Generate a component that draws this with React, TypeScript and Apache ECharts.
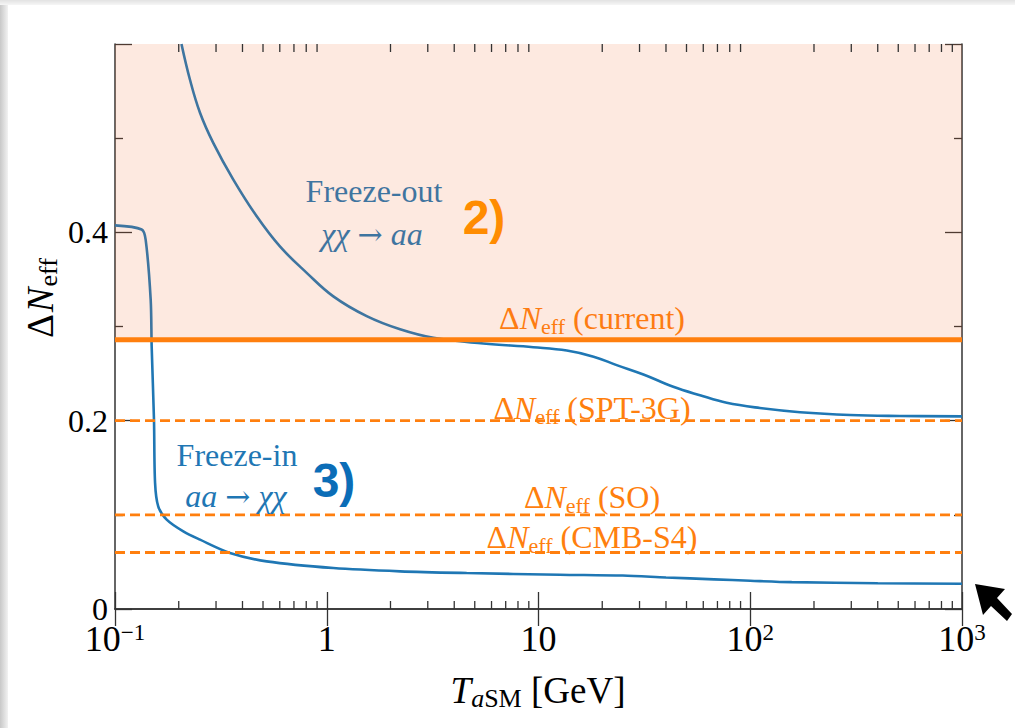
import React, { useEffect, useRef } from "react";
import * as echarts from "echarts";

// ---------- data ----------
const X_MIN = 0.1;
const X_MAX = 1000;
const Y_MIN = 0;
const Y_MAX = 0.6;

const X_TICK_VALUES = [0.1, 1, 10, 100, 1000];
const X_TICK_BASE = ["10", "1", "10", "10", "10"];
const X_TICK_EXP = ["−1", "", "", "2", "3"];
const Y_TICK_LABELS = ["0", "0.2", "0.4"];

const MINOR_DECADES = [0.1, 1, 10, 100];
const MINOR_MULTIPLIERS = [2, 3, 4, 5, 6, 7, 8, 9];

// Freeze-out curve (chi chi -> a a)
const FO_X = [0.206, 0.226, 0.252, 0.291, 0.362, 0.467, 0.601, 0.804, 1.074, 1.544, 2.22, 3.19, 5.49, 9.45, 13.6, 18.2, 23.4, 31.3, 43.3, 57.9, 77.4, 111, 172, 296, 509, 1000];
const FO_Y = [0.6, 0.562, 0.527, 0.495, 0.456, 0.417, 0.385, 0.357, 0.332, 0.311, 0.297, 0.288, 0.282, 0.278, 0.2745, 0.268, 0.259, 0.249, 0.236, 0.227, 0.219, 0.2135, 0.209, 0.206, 0.205, 0.2046];

// Freeze-in curve (a a -> chi chi)
const FI_X = [0.1, 0.1336, 0.1396, 0.1474, 0.149, 0.1528, 0.1546, 0.16, 0.1754, 0.2102, 0.252, 0.349, 0.52, 1.074, 2.22, 4.58, 12.6, 25, 40, 67.5, 100, 157, 400, 1000];
const FI_Y = [0.4074, 0.403, 0.392, 0.3285, 0.2786, 0.201, 0.134, 0.109, 0.0949, 0.0824, 0.0736, 0.0595, 0.0506, 0.0435, 0.04, 0.0382, 0.0364, 0.0355, 0.0335, 0.0315, 0.03, 0.0285, 0.0274, 0.0268];

// Delta N_eff bounds
const BOUND_NAMES = ["current", "SPT-3G", "SO", "CMB-S4"];
const BOUND_VALUES = [0.286, 0.2, 0.1, 0.06];

// ---------- styles ----------
const SERIF = '"Liberation Serif", "DejaVu Serif", "Times New Roman", serif';
const ARROW_FONT = '"DejaVu Serif", "Liberation Serif", serif';
const SANS = '"Liberation Sans", Arial, Helvetica, sans-serif';
const AXIS_COLOR = "#333333";
const BLUE = "#1f77b4";
const ORANGE = "#ff7f0e";

function App() {
  const ref = useRef<HTMLDivElement | null>(null);

  useEffect(() => {
    if (!ref.current) return;
    const chart = echarts.init(ref.current, null, { renderer: "svg", width: 1015, height: 728 });

    const minorTicks: number[] = [];
    MINOR_DECADES.forEach((d) => MINOR_MULTIPLIERS.forEach((m) => minorTicks.push(+(d * m).toPrecision(3))));

    const xLabelFormatter = (v: number) => {
      const idx = X_TICK_VALUES.findIndex((t) => Math.abs(Math.log10(t) - Math.log10(v)) < 1e-6);
      if (idx < 0) return "";
      const exp = X_TICK_EXP[idx];
      return exp ? `{b|${X_TICK_BASE[idx]}}{p|${exp}}` : `{b|${X_TICK_BASE[idx]}}`;
    };
    const yLabelFormatter = (v: number) => {
      const s = Y_TICK_LABELS.find((t) => Math.abs(parseFloat(t) - v) < 1e-6);
      return s ?? "";
    };

    const tickStyle = { color: AXIS_COLOR, width: 1.3 };
    const axisLineStyle = { show: true, lineStyle: { color: AXIS_COLOR, width: 1.5 } };

    const xBase = {
      type: "log" as const,
      logBase: 10,
      min: X_MIN,
      max: X_MAX,
      axisLine: axisLineStyle,
      axisTick: { show: true, inside: true, length: 17, lineStyle: tickStyle },
      splitLine: { show: false },
    };
    const yBase = {
      type: "value" as const,
      min: Y_MIN,
      max: Y_MAX,
      interval: 0.2,
      axisLine: axisLineStyle,
      axisTick: { show: true, inside: true, length: 17, lineStyle: tickStyle },
      minorTick: { show: true, splitNumber: 2, length: 8, lineStyle: tickStyle },
      splitLine: { show: false },
      minorSplitLine: { show: false },
    };

    const neffRich = (color: string) => ({
      r: { fontSize: 32, fontFamily: SERIF, fill: color, lineHeight: 38 },
      i: { fontSize: 32, fontFamily: SERIF, fontStyle: "italic", fill: color, lineHeight: 38 },
      s: { fontSize: 22, fontFamily: SERIF, fill: color, lineHeight: 21, verticalAlign: "bottom" },
    });
    const boundLabelPos = [
      [592, 318],
      [592, 408],
      [592, 497],
      [592, 537],
    ];
    const mathRich = (color: string) => ({
      i: { fontSize: 32, fontFamily: SERIF, fontStyle: "italic", fill: color, lineHeight: 36 },
      a: { fontSize: 30, fontFamily: ARROW_FONT, fill: color, lineHeight: 36 },
    });

    const option: any = {
      animation: false,
      backgroundColor: "#ffffff",
      grid: { left: 115, right: 53, top: 44, bottom: 119, containLabel: false },
      xAxis: [
        {
          ...xBase,
          position: "bottom",
          axisLabel: {
            show: true,
            margin: 12,
            showMinLabel: true,
            showMaxLabel: true,
            formatter: xLabelFormatter,
            rich: {
              b: { fontSize: 36, fontFamily: SERIF, color: "#000", lineHeight: 36 },
              p: { fontSize: 23, fontFamily: SERIF, color: "#000", lineHeight: 20, verticalAlign: "top" },
            },
          },
        },
        { ...xBase, position: "top", axisLabel: { show: false } },
      ],
      yAxis: [
        {
          ...yBase,
          position: "left",
          axisLabel: {
            show: true,
            margin: 7,
            formatter: yLabelFormatter,
            fontSize: 32,
            lineHeight: 22,
            fontFamily: SERIF,
            color: "#000",
          },
        },
        { ...yBase, position: "right", axisLabel: { show: false } },
      ],
      series: [
        {
          name: "Freeze-out",
          type: "line",
          z: 2,
          xAxisIndex: 0,
          yAxisIndex: 0,
          data: FO_X.map((x, i) => [x, FO_Y[i]]),
          showSymbol: false,
          smooth: 0.4,
          clip: true,
          lineStyle: { color: BLUE, width: 2.6 },
        },
        {
          name: "Freeze-in",
          type: "line",
          z: 2,
          xAxisIndex: 0,
          yAxisIndex: 0,
          data: FI_X.map((x, i) => [x, FI_Y[i]]),
          showSymbol: false,
          smooth: 0.3,
          clip: true,
          lineStyle: { color: BLUE, width: 2.6 },
        },
        {
          name: "excluded",
          type: "custom",
          z: 3,
          xAxisIndex: 0,
          yAxisIndex: 0,
          data: [[X_MIN, BOUND_VALUES[0], X_MAX, Y_MAX]],
          encode: { x: [0, 2], y: [1, 3] },
          renderItem: (params: any, api: any) => {
            const p1 = api.coord([api.value(0), api.value(3)]);
            const p2 = api.coord([api.value(2), api.value(1)]);
            return {
              type: "rect",
              shape: { x: p1[0], y: p1[1], width: p2[0] - p1[0], height: p2[1] - p1[1] },
              style: { fill: "rgba(242,108,48,0.15)" },
            };
          },
        },
        ...BOUND_VALUES.map((v, i) => ({
          name: BOUND_NAMES[i],
          type: "line",
          z: 4,
          xAxisIndex: 0,
          yAxisIndex: 0,
          data: [
            [X_MIN, v],
            [X_MAX, v],
          ],
          showSymbol: false,
          lineStyle:
            i === 0
              ? { color: ORANGE, width: 5 }
              : { color: ORANGE, width: 2.8, type: [10, 5] },
        })),
        {
          name: "minorTicks",
          type: "custom",
          z: 5,
          xAxisIndex: 0,
          yAxisIndex: 0,
          data: minorTicks.map((v) => [v, Y_MIN]),
          renderItem: (params: any, api: any) => {
            const v = api.value(0);
            const b = api.coord([v, Y_MIN]);
            const t = api.coord([v, Y_MAX]);
            return {
              type: "group",
              children: [
                { type: "line", shape: { x1: b[0], y1: b[1], x2: b[0], y2: b[1] - 8 }, style: { stroke: AXIS_COLOR, lineWidth: 1.3 } },
                { type: "line", shape: { x1: t[0], y1: t[1], x2: t[0], y2: t[1] + 8 }, style: { stroke: AXIS_COLOR, lineWidth: 1.3 } },
              ],
            };
          },
        },
      ],
      graphic: [
        // card frame shadow
        {
          type: "rect",
          z: 0,
          shape: { x: 0, y: 0, width: 8, height: 728 },
          style: {
            fill: new echarts.graphic.LinearGradient(0, 0, 1, 0, [
              { offset: 0, color: "#c8c8c8" },
              { offset: 1, color: "#f2f2f2" },
            ]),
          },
        },
        {
          type: "rect",
          z: 0,
          shape: { x: 0, y: 0, width: 1015, height: 5 },
          style: {
            fill: new echarts.graphic.LinearGradient(0, 0, 0, 1, [
              { offset: 0, color: "#e2e2e2" },
              { offset: 1, color: "#f6f6f6" },
            ]),
          },
        },
        // Axis titles
        {
          type: "text",
          z: 10,
          x: 40,
          y: 298,
          rotation: Math.PI / 2,
          style: {
            text: "{r|Δ}{i|N}{s|eff}",
            align: "center",
            verticalAlign: "middle",
            rich: {
              r: { fontSize: 37, fontFamily: SERIF, fill: "#000", lineHeight: 42 },
              i: { fontSize: 37, fontFamily: SERIF, fontStyle: "italic", fill: "#000", lineHeight: 42, padding: [0, 1, 0, 2] },
              s: { fontSize: 26, fontFamily: SERIF, fill: "#000", lineHeight: 24, verticalAlign: "bottom" },
            },
          },
        },
        {
          type: "text",
          z: 10,
          x: 538,
          y: 690,
          style: {
            text: "{i|T}{si|a}{s|SM}{r| [GeV]}",
            align: "center",
            verticalAlign: "middle",
            rich: {
              r: { fontSize: 37, fontFamily: SERIF, fill: "#000", lineHeight: 42 },
              i: { fontSize: 37, fontFamily: SERIF, fontStyle: "italic", fill: "#000", lineHeight: 42 },
              si: { fontSize: 26, fontFamily: SERIF, fontStyle: "italic", fill: "#000", lineHeight: 24, verticalAlign: "bottom" },
              s: { fontSize: 26, fontFamily: SERIF, fill: "#000", lineHeight: 24, verticalAlign: "bottom" },
            },
          },
        },
        // Freeze-out annotation (under the shaded band)
        {
          type: "text",
          z: 1,
          x: 374,
          y: 191,
          style: { text: "Freeze-out", align: "center", verticalAlign: "middle", fontSize: 32, fontFamily: SERIF, fill: BLUE },
        },
        {
          type: "text",
          z: 1,
          x: 372,
          y: 234,
          style: { text: "{i|χχ }{a|→}{i| aa}", align: "center", verticalAlign: "middle", rich: mathRich(BLUE) },
        },
        {
          type: "text",
          z: 10,
          x: 484,
          y: 217,
          style: { text: "2)", align: "center", verticalAlign: "middle", fontSize: 48, fontFamily: SANS, fontWeight: "bold", fill: "#ff8c00" },
        },
        // Freeze-in annotation
        {
          type: "text",
          z: 10,
          x: 237,
          y: 455,
          style: { text: "Freeze-in", align: "center", verticalAlign: "middle", fontSize: 32, fontFamily: SERIF, fill: BLUE },
        },
        {
          type: "text",
          z: 10,
          x: 236,
          y: 496,
          style: { text: "{i|aa }{a|→}{i| χχ}", align: "center", verticalAlign: "middle", rich: mathRich(BLUE) },
        },
        {
          type: "text",
          z: 10,
          x: 334,
          y: 480,
          style: { text: "3)", align: "center", verticalAlign: "middle", fontSize: 48, fontFamily: SANS, fontWeight: "bold", fill: "#0b6db7" },
        },
        // bound labels
        ...BOUND_NAMES.map((name, i) => ({
          type: "text",
          z: i === 0 ? 1 : 10,
          x: boundLabelPos[i][0],
          y: boundLabelPos[i][1],
          style: {
            text: `{r|Δ}{i|N}{s|eff}{r| (${name})}`,
            align: "center",
            verticalAlign: "middle",
            rich: neffRich(ORANGE),
          },
        })),
        // mouse cursor
        {
          type: "polygon",
          z: 20,
          shape: {
            points: [
              [975, 584],
              [1005, 589],
              [997, 598],
              [1012, 614],
              [1007, 621],
              [991, 606],
              [983, 615],
            ],
          },
          style: { fill: "#000" },
        },
      ],
    };

    chart.setOption(option);
    return () => chart.dispose();
  }, []);

  return <div ref={ref} style={{ position: "fixed", left: 0, top: 0, width: 1015, height: 728 }} />;
}

export default App;
